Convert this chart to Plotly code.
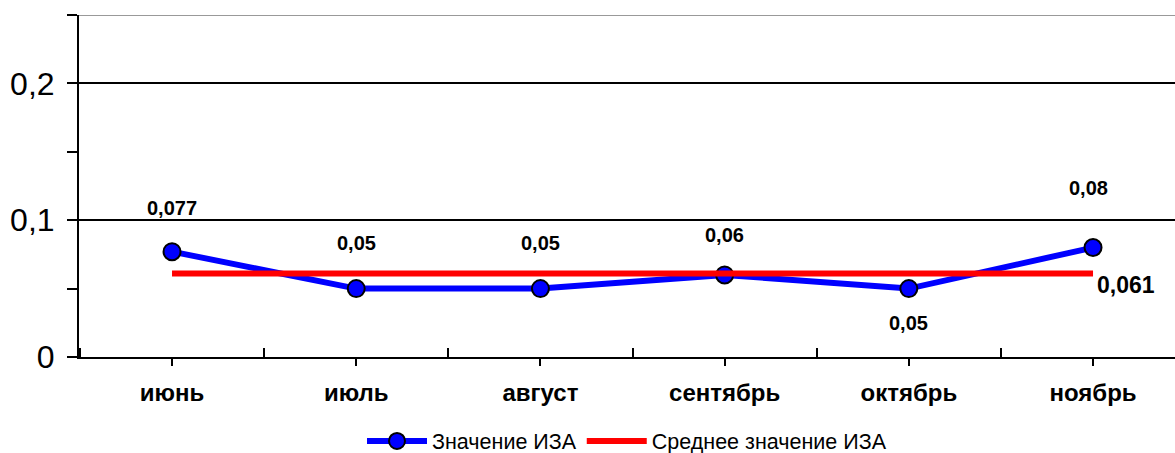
import plotly.graph_objects as go

# Monthly air pollution index (ИЗА) values
months = ["июнь", "июль", "август", "сентябрь", "октябрь", "ноябрь"]
iza_values = [0.077, 0.05, 0.05, 0.06, 0.05, 0.08]
iza_mean = [0.061, 0.061, 0.061, 0.061, 0.061, 0.061]
y_tick_vals = [0, 0.1, 0.2]
y_tick_text = ["0", "0,1", "0,2"]

# vertical offsets (px) of the value labels relative to their points
label_shift = [44, 46, 46, 40, -34, 60]

FONT = "Arial, Liberation Sans, sans-serif"
x_pos = list(range(len(months)))


def fmt(v):
    return str(v).replace(".", ",")


fig = go.Figure()

fig.add_trace(go.Scatter(
    x=x_pos, y=iza_values, mode="lines+markers", name="Значение ИЗА",
    line=dict(color="#0000FF", width=6),
    marker=dict(size=17, color="#0000FF", line=dict(color="black", width=2)),
))
fig.add_trace(go.Scatter(
    x=x_pos, y=iza_mean, mode="lines", name="Среднее значение ИЗА",
    line=dict(color="#FF0000", width=6),
))

annotations = []
for i, v in enumerate(iza_values):
    annotations.append(dict(
        x=x_pos[i], y=v, text=fmt(v), showarrow=False,
        yshift=label_shift[i], xshift=-5 if i == len(months) - 1 else 0,
        font=dict(family=FONT, size=20, color="black", weight="bold"),
    ))
annotations.append(dict(
    x=x_pos[-1], y=iza_mean[-1], text=fmt(iza_mean[-1]), showarrow=False,
    xanchor="left", xshift=2, yshift=-11,
    font=dict(family=FONT, size=23, color="black", weight="bold"),
))

fig.update_layout(
    width=1175, height=453,
    margin=dict(l=79, r=0, t=15, b=96, autoexpand=False),
    paper_bgcolor="white", plot_bgcolor="white",
    showlegend=True,
    legend=dict(
        orientation="h", x=0.5, xanchor="center",
        yref="container", y=0.0265, yanchor="middle",
        font=dict(family=FONT, size=21.5, color="black"),
        itemwidth=60, tracegroupgap=0,
    ),
    annotations=annotations,
    shapes=[dict(
        type="line", xref="paper", yref="y", x0=0, x1=1, y0=0.25, y1=0.25,
        line=dict(color="#999999", width=2),
    )],
)

fig.update_xaxes(
    range=[-0.505, 5.445], automargin=False,
    tickmode="array", tickvals=x_pos, ticktext=months,
    ticks="outside", ticklen=7, tickwidth=2, tickcolor="black",
    ticklabelstandoff=6,
    minor=dict(tick0=0.5, dtick=1, ticks="inside", ticklen=9,
               tickwidth=2, tickcolor="black", showgrid=False),
    showline=True, linecolor="black", linewidth=2,
    showgrid=False, zeroline=False,
    tickfont=dict(family=FONT, size=24, color="black", weight="bold"),
)

fig.update_yaxes(
    range=[0, 0.25], automargin=False,
    tickmode="array", tickvals=y_tick_vals, ticktext=y_tick_text,
    ticks="outside", ticklen=10, tickwidth=2, tickcolor="black",
    ticklabelstandoff=6,
    minor=dict(dtick=0.05, tick0=0, ticks="outside", ticklen=10,
               tickwidth=2, tickcolor="black", showgrid=False),
    showline=True, linecolor="black", linewidth=2,
    showgrid=True, gridcolor="black", gridwidth=2,
    zeroline=False,
    tickfont=dict(family=FONT, size=32, color="black"),
)

fig.write_html("out.html")
